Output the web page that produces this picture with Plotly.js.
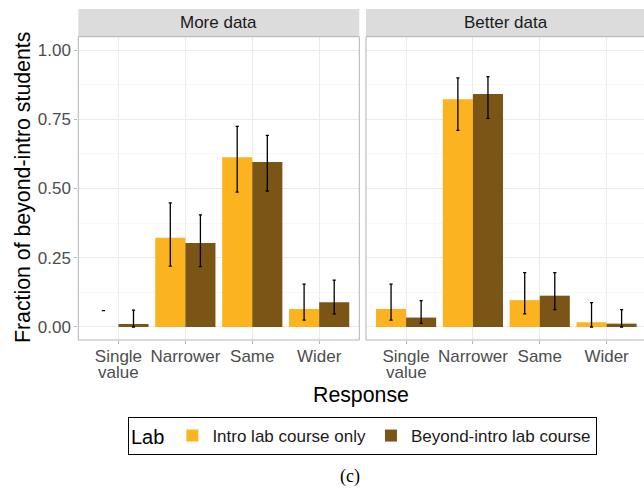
<!DOCTYPE html>
<html>
<head>
<meta charset="utf-8">
<script src="https://cdn.plot.ly/plotly-3.0.1.min.js"></script>
<style>html,body{margin:0;padding:0;background:#fff;}#chart{width:644px;height:491px;}</style>
</head>
<body>
<div id="chart"></div>
<script>
// ---- data ----
var categories = ['Single value', 'Narrower', 'Same', 'Wider'];
var tickLabels = ['Single<br>value', 'Narrower', 'Same', 'Wider'];
var panels = ['More data', 'Better data'];
var seriesNames = ['Intro lab course only', 'Beyond-intro lab course'];

// More data
var introMore    = [0.000, 0.322, 0.613, 0.065];
var introMoreLo  = [0.059, 0.220, 0.487, 0.025];
var introMoreHi  = [0.059, 0.448, 0.724, 0.155];
var beyondMore   = [0.011, 0.303, 0.596, 0.089];
var beyondMoreLo = [0.000, 0.218, 0.491, 0.047];
var beyondMoreHi = [0.061, 0.405, 0.692, 0.169];

// Better data
var introBetter    = [0.065, 0.822, 0.097, 0.017];
var introBetterLo  = [0.025, 0.710, 0.047, 0.000];
var introBetterHi  = [0.155, 0.899, 0.196, 0.088];
var beyondBetter   = [0.034, 0.841, 0.113, 0.012];
var beyondBetterLo = [0.013, 0.753, 0.063, 0.000];
var beyondBetterHi = [0.095, 0.904, 0.196, 0.063];

var colors = ['#FBB41F', '#7A5516'];

// ---- build ----
var W = 644, H = 491;
var xdom1 = [78.3 / W, 359.3 / W];
var xdom2 = [366 / W, 1];
var ydom = [1 - 340 / H, 1 - 36.7 / H];
var SANS = 'Liberation Sans, Arial, sans-serif';

function barTrace(vals, name, color, xa, ya, show) {
  return {
    type: 'bar', x: categories, y: vals, name: name, xaxis: xa, yaxis: ya,
    offsetgroup: name, legendgroup: name, showlegend: show,
    marker: { color: color, line: { width: 0 } },
    hoverinfo: 'x+y'
  };
}
function errTrace(lo, hi, name, xa, ya) {
  return {
    type: 'bar', x: categories, y: hi, xaxis: xa, yaxis: ya,
    offsetgroup: name, showlegend: false, hoverinfo: 'skip',
    marker: { color: 'rgba(0,0,0,0)', line: { width: 0 } },
    error_y: {
      type: 'data', symmetric: false,
      array: hi.map(function () { return 0; }),
      arrayminus: hi.map(function (h, i) { return h - lo[i]; }),
      color: '#000000', thickness: 1.3, width: 1.6
    }
  };
}

var data = [
  barTrace(introMore, seriesNames[0], colors[0], 'x', 'y', true),
  barTrace(beyondMore, seriesNames[1], colors[1], 'x', 'y', true),
  barTrace(introBetter, seriesNames[0], colors[0], 'x2', 'y2', false),
  barTrace(beyondBetter, seriesNames[1], colors[1], 'x2', 'y2', false),
  errTrace(introMoreLo, introMoreHi, seriesNames[0], 'x', 'y'),
  errTrace(beyondMoreLo, beyondMoreHi, seriesNames[1], 'x', 'y'),
  errTrace(introBetterLo, introBetterHi, seriesNames[0], 'x2', 'y2'),
  errTrace(beyondBetterLo, beyondBetterHi, seriesNames[1], 'x2', 'y2')
];

var tickFont = { family: SANS, size: 17, color: '#4d4d4d' };
// first line of each label goes on the axis, further lines as tighter-spaced annotations
var firstLines = tickLabels.map(function (t) { return t.split('<br>')[0]; });

function xaxis(dom, range) {
  return {
    domain: dom, type: 'category', categoryorder: 'array', categoryarray: categories,
    tickvals: categories, ticktext: firstLines, range: range,
    showgrid: true, gridcolor: '#ebebeb', gridwidth: 1,
    ticks: 'outside', ticklen: 3, tickcolor: '#b3b3b3', tickwidth: 1,
    ticklabelstandoff: -2,
    tickfont: tickFont, zeroline: false, showline: false, fixedrange: true
  };
}
function yaxis(anchor, showLabels) {
  return {
    domain: ydom, anchor: anchor, range: [-0.047, 1.048],
    tickvals: [0, 0.25, 0.5, 0.75, 1], tickformat: '.2f',
    showticklabels: showLabels,
    showgrid: true, gridcolor: '#ebebeb', gridwidth: 1,
    minor: { tickvals: [0.125, 0.375, 0.625, 0.875], showgrid: true, gridcolor: '#f4f4f4', gridwidth: 0.6 },
    ticks: showLabels ? 'outside' : '', ticklen: 3, tickcolor: '#b3b3b3', tickwidth: 1,
    tickfont: tickFont, zeroline: false, showline: false, fixedrange: true
  };
}

var shapes = [];
var annotations = [];
[[xdom1, panels[0], 'x'], [xdom2, panels[1], 'x2']].forEach(function (p, i) {
  var d = p[0];
  var xr = i === 1 ? 1.01 : d[1];
  shapes.push({ type: 'rect', xref: 'paper', yref: 'paper', x0: d[0], x1: xr,
    y0: 1 - 36.7 / H, y1: 1 - 9 / H, fillcolor: '#dcdcdc', line: { width: 0 }, layer: 'below' });
  shapes.push({ type: 'rect', xref: 'paper', yref: 'paper', x0: d[0], x1: xr,
    y0: ydom[0], y1: ydom[1], fillcolor: 'rgba(0,0,0,0)', line: { color: '#b3b3b3', width: 1 }, layer: 'above' });
  annotations.push({ xref: 'paper', yref: 'paper', x: (d[0] + (i === 1 ? (366 + 280) / W : d[1])) / 2,
    y: 1 - 23 / H, text: p[1], showarrow: false, xanchor: 'center', yanchor: 'middle',
    font: { family: SANS, size: 17, color: '#1a1a1a' } });
  tickLabels.forEach(function (t, k) {
    var lines = t.split('<br>');
    for (var j = 1; j < lines.length; j++) {
      annotations.push({ xref: p[2], yref: 'paper', x: categories[k], y: 1 - (354 + 18 * j) / H,
        text: lines[j], showarrow: false, xanchor: 'center', yanchor: 'middle',
        font: tickFont });
    }
  });
});
annotations.push({ xref: 'paper', yref: 'paper', x: 23 / W, y: 1 - 188 / H, text: 'Fraction of beyond-intro students',
  textangle: -90, showarrow: false, xanchor: 'center', yanchor: 'middle',
  font: { family: SANS, size: 21.3, color: '#000' } });
annotations.push({ xref: 'paper', yref: 'paper', x: 361 / W, y: 1 - 395 / H, text: 'Response',
  showarrow: false, xanchor: 'center', yanchor: 'middle',
  font: { family: SANS, size: 21.3, color: '#000' } });
annotations.push({ xref: 'paper', yref: 'paper', x: 350 / W, y: 1 - 476 / H, text: '(c)',
  showarrow: false, xanchor: 'center', yanchor: 'middle',
  font: { family: 'Liberation Serif, Times New Roman, serif', size: 18, color: '#000' } });

var layout = {
  width: W, height: H,
  margin: { l: 0, r: 0, t: 0, b: 0 },
  paper_bgcolor: '#fff', plot_bgcolor: '#fff',
  barmode: 'group', bargap: 0.1, bargroupgap: 0,
  xaxis: xaxis(xdom1, [-0.6, 3.6]),
  yaxis: yaxis('x', true),
  xaxis2: xaxis(xdom2, [-0.6, 3.56]),
  yaxis2: yaxis('x2', false),
  showlegend: true,
  legend: {
    orientation: 'h', x: 362.5 / W, xanchor: 'center', y: 1 - 417 / H, yanchor: 'top',
    bordercolor: '#000', borderwidth: 1, bgcolor: '#fff',
    title: { text: 'Lab', side: 'left', font: { family: SANS, size: 20, color: '#000' } },
    font: { family: SANS, size: 17, color: '#1a1a1a' },
    traceorder: 'normal', itemsizing: 'constant'
  },
  shapes: shapes,
  annotations: annotations
};

Plotly.newPlot('chart', data, layout, { displayModeBar: false, staticPlot: true });
</script>
</body>
</html>
